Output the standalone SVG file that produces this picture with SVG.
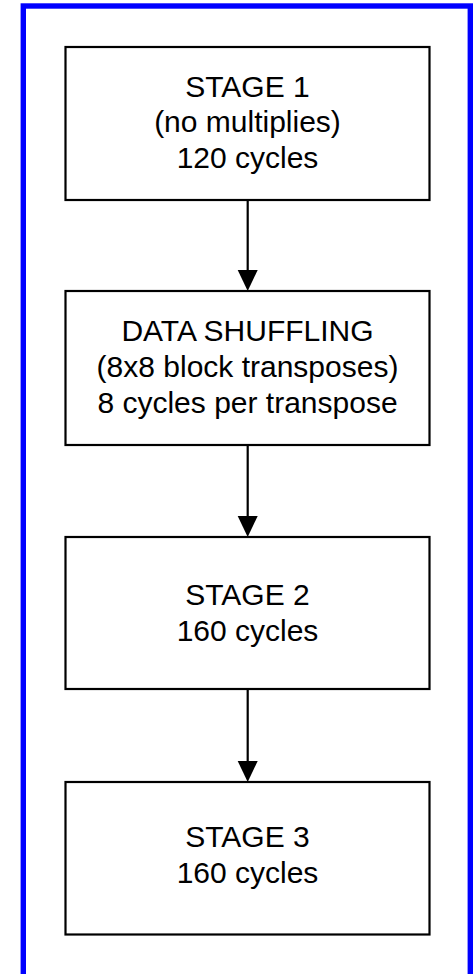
<svg xmlns="http://www.w3.org/2000/svg" width="473" height="974" viewBox="0 0 473 974">
  <style>
    .box { fill: #ffffff; stroke: #000000; stroke-width: 2.2; }
    .label { font-family: "Liberation Sans", Arial, sans-serif; font-size: 30px; fill: #000000; text-anchor: middle; }
    .conn { stroke: #000000; stroke-width: 2.2; fill: none; }
    .head { fill: #000000; }
  </style>
  <defs>
    <path id="arrowhead" class="head" d="M-10,-21 L10,-21 L0,0 Z"/>
  </defs>

  <rect width="473" height="974" fill="#ffffff"/>
  <!-- outer frame -->
  <rect x="23.3" y="6" width="447" height="990" fill="none" stroke="#0000ff" stroke-width="5.4"/>

  <g id="stage1">
    <rect class="box" x="65.5" y="47" width="364" height="153"/>
    <text class="label" x="247.5" y="96.5">STAGE 1</text>
    <text class="label" x="247.5" y="132">(no multiplies)</text>
    <text class="label" x="247.5" y="168">120 cycles</text>
  </g>

  <g id="shuffle">
    <rect class="box" x="65.5" y="291" width="364" height="154"/>
    <text class="label" x="247.5" y="341">DATA SHUFFLING</text>
    <text class="label" x="247.5" y="377">(8x8 block transposes)</text>
    <text class="label" x="247.5" y="412.5">8 cycles per transpose</text>
  </g>

  <g id="stage2">
    <rect class="box" x="65.5" y="537" width="364" height="152"/>
    <text class="label" x="247.5" y="605">STAGE 2</text>
    <text class="label" x="247.5" y="641">160 cycles</text>
  </g>

  <g id="stage3">
    <rect class="box" x="65.5" y="782" width="364" height="152.5"/>
    <text class="label" x="247.5" y="847">STAGE 3</text>
    <text class="label" x="247.5" y="883">160 cycles</text>
  </g>

  <g id="connectors">
    <line class="conn" x1="247.7" y1="200" x2="247.7" y2="272"/>
    <use href="#arrowhead" x="247.7" y="291"/>
    <line class="conn" x1="247.7" y1="445" x2="247.7" y2="518"/>
    <use href="#arrowhead" x="247.7" y="537"/>
    <line class="conn" x1="247.7" y1="689" x2="247.7" y2="763"/>
    <use href="#arrowhead" x="247.7" y="782"/>
  </g>
</svg>
